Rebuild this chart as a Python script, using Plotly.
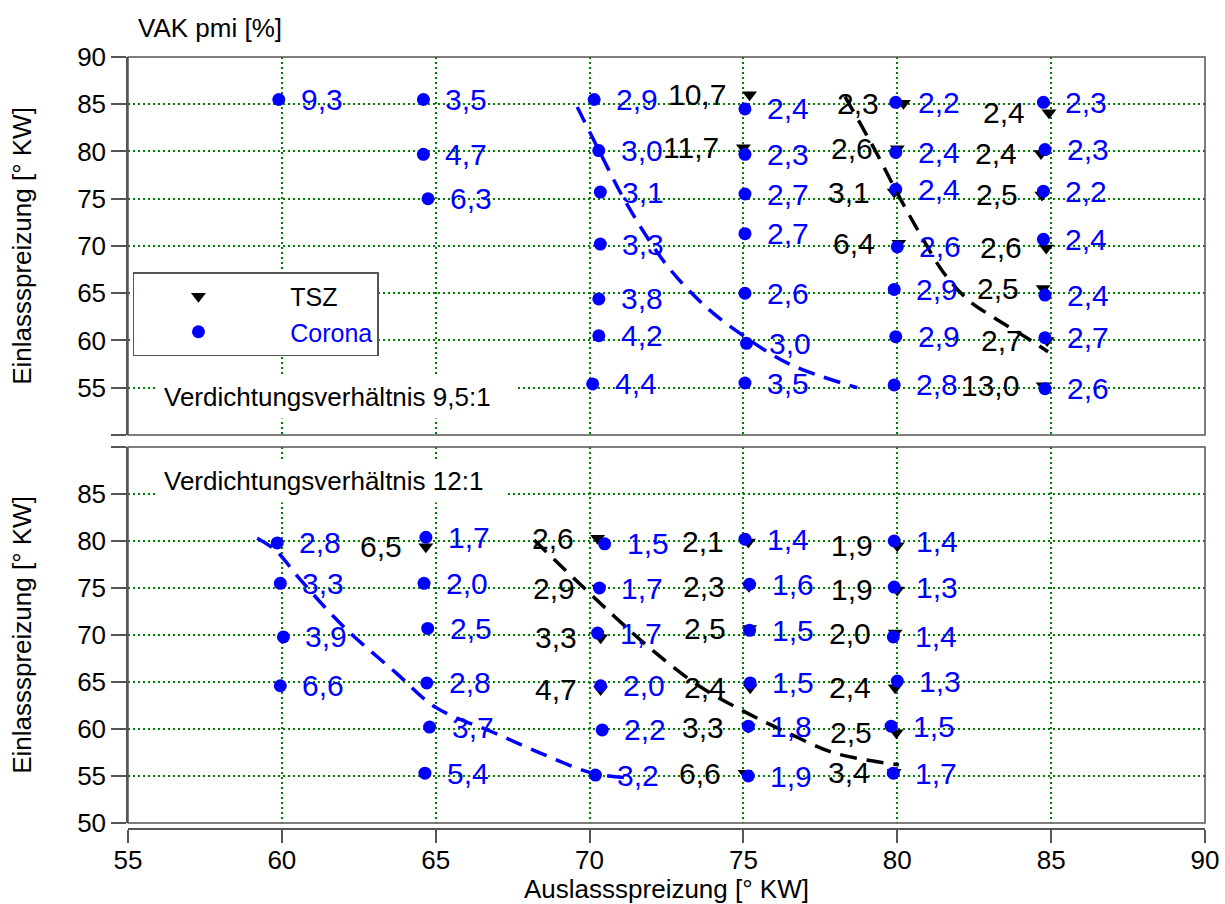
import plotly.graph_objects as go

# ---------------- data: compression ratio 9.5:1 (top panel) ----------------
top_corona_x = [59.9, 64.6, 64.6, 64.75,
                70.15, 70.3, 70.35, 70.35, 70.3, 70.3, 70.1,
                75.05, 75.05, 75.05, 75.05, 75.05, 75.1, 75.05,
                79.95, 79.95, 79.95, 80.0, 79.9, 79.95, 79.9,
                84.75, 84.8, 84.75, 84.75, 84.8, 84.8, 84.8]
top_corona_y = [85.5, 85.5, 79.7, 75.0,
                85.5, 80.1, 75.7, 70.2, 64.4, 60.5, 55.4,
                84.5, 79.7, 75.5, 71.3, 65.0, 59.7, 55.5,
                85.2, 79.9, 76.0, 69.9, 65.4, 60.4, 55.3,
                85.2, 80.2, 75.8, 70.7, 64.8, 60.3, 54.9]
top_corona_lbl = ["9,3", "3,5", "4,7", "6,3",
                  "2,9", "3,0", "3,1", "3,3", "3,8", "4,2", "4,4",
                  "2,4", "2,3", "2,7", "2,7", "2,6", "3,0", "3,5",
                  "2,2", "2,4", "2,4", "2,6", "2,9", "2,9", "2,8",
                  "2,3", "2,3", "2,2", "2,4", "2,4", "2,7", "2,6"]

top_tsz_x = [75.2, 75.0,
             80.2, 80.0, 79.9, 80.05,
             84.93, 84.67, 84.7, 84.84, 84.74, 84.87, 84.74]
top_tsz_y = [86.0, 80.4,
             85.1, 80.3, 75.7, 70.3,
             84.1, 79.8, 75.4, 69.8, 65.5, 60.0, 55.2]
top_tsz_lbl = ["10,7", "11,7",
               "2,3", "2,6", "3,1", "6,4",
               "2,4", "2,4", "2,5", "2,6", "2,5", "2,7", "13,0"]

top_corona_curve_x = [69.6, 70.4, 71.2, 72.5, 73.8, 75.0, 76.5, 78.7]
top_corona_curve_y = [84.7, 79.5, 74.5, 68.0, 63.5, 60.5, 57.5, 55.0]
top_tsz_curve_x = [78.3, 79.3, 80.0, 80.7, 81.5, 82.3, 83.2, 84.1, 84.9]
top_tsz_curve_y = [85.8, 80.0, 75.6, 71.5, 67.2, 64.3, 62.3, 60.5, 58.8]

# ---------------- data: compression ratio 12:1 (bottom panel) ----------------
bot_corona_x = [59.85, 59.95, 60.05, 59.95,
                64.68, 64.62, 64.74, 64.71, 64.8, 64.65,
                70.49, 70.32, 70.26, 70.36, 70.41, 70.19,
                75.05, 75.2, 75.2, 75.22, 75.16, 75.16,
                79.9, 79.9, 79.87, 80.0, 79.8, 79.87]
bot_corona_y = [79.8, 75.5, 69.8, 64.6,
                80.4, 75.5, 70.7, 64.9, 60.2, 55.3,
                79.7, 75.0, 70.2, 64.6, 59.9, 55.1,
                80.2, 75.4, 70.5, 64.9, 60.3, 55.0,
                80.0, 75.1, 69.8, 65.1, 60.3, 55.3]
bot_corona_lbl = ["2,8", "3,3", "3,9", "6,6",
                  "1,7", "2,0", "2,5", "2,8", "3,7", "5,4",
                  "1,5", "1,7", "1,7", "2,0", "2,2", "3,2",
                  "1,4", "1,6", "1,5", "1,5", "1,8", "1,9",
                  "1,4", "1,3", "1,4", "1,3", "1,5", "1,7"]

bot_tsz_x = [64.68,
             70.26, 70.3, 70.36, 70.36,
             75.16, 75.18, 75.2, 75.22, 75.16, 75.05,
             80.0, 80.0, 79.93, 79.93, 79.97, 79.9]
bot_tsz_y = [79.4,
             80.3, 75.0, 69.7, 64.2,
             79.9, 75.2, 70.7, 64.4, 60.2, 55.3,
             79.5, 74.8, 70.2, 64.4, 59.6, 55.4]
bot_tsz_lbl = ["6,5",
               "2,6", "2,9", "3,3", "4,7",
               "2,1", "2,3", "2,5", "2,4", "3,3", "6,6",
               "1,9", "1,9", "2,0", "2,4", "2,5", "3,4"]

bot_corona_curve_x = [59.2, 59.8, 60.6, 62.0, 63.7, 65.0, 66.9, 68.5, 70.1, 71.3]
bot_corona_curve_y = [80.3, 79.0, 75.9, 70.9, 66.0, 62.3, 59.6, 57.3, 55.3, 54.8]
bot_tsz_curve_x = [68.2, 69.5, 70.8, 72.0, 73.5, 75.0, 76.5, 78.0, 80.05]
bot_tsz_curve_y = [80.1, 76.0, 72.0, 68.5, 64.7, 61.9, 59.5, 57.4, 56.2]

x_ticks = [55, 60, 65, 70, 75, 80, 85, 90]
y_ticks = [50, 55, 60, 65, 70, 75, 80, 85, 90]
top_y_ticktext = [""] + [str(v) for v in y_ticks[1:]]
bot_y_ticktext = [str(v) for v in y_ticks[:-1]] + [""]

# ---------------- styling ----------------
FONT = "Liberation Sans, Arial, sans-serif"
BLUE = "#0000FF"
BLACK = "#000000"
GRID = "#008000"
FRAME = "#555555"
TXT = 26
LBL = 30
NB = "\u00a0" * 4

fig = go.Figure()

# TSZ markers
fig.add_trace(go.Scatter(x=top_tsz_x, y=top_tsz_y, mode="markers", name=NB + "TSZ",
                         marker=dict(symbol="triangle-down", size=13, color=BLACK),
                         xaxis="x", yaxis="y", showlegend=True))
fig.add_trace(go.Scatter(x=bot_tsz_x, y=bot_tsz_y, mode="markers", name="TSZ",
                         marker=dict(symbol="triangle-down", size=13, color=BLACK),
                         xaxis="x2", yaxis="y2", showlegend=False))
# Corona markers
fig.add_trace(go.Scatter(x=top_corona_x, y=top_corona_y, mode="markers",
                         name=NB + "<span style='color:#0000FF'>Corona</span>",
                         marker=dict(symbol="circle", size=13, color=BLUE),
                         xaxis="x", yaxis="y", showlegend=True))
fig.add_trace(go.Scatter(x=bot_corona_x, y=bot_corona_y, mode="markers", name="Corona",
                         marker=dict(symbol="circle", size=13, color=BLUE),
                         xaxis="x2", yaxis="y2", showlegend=False))

# dashed curves
dash = "17px,10px"
for cx, cy, col, xa, ya in [
    (top_corona_curve_x, top_corona_curve_y, BLUE, "x", "y"),
    (top_tsz_curve_x, top_tsz_curve_y, BLACK, "x", "y"),
    (bot_corona_curve_x, bot_corona_curve_y, BLUE, "x2", "y2"),
    (bot_tsz_curve_x, bot_tsz_curve_y, BLACK, "x2", "y2"),
]:
    fig.add_trace(go.Scatter(x=cx, y=cy, mode="lines",
                             line=dict(color=col, width=3.5, dash=dash, shape="spline"),
                             xaxis=xa, yaxis=ya, showlegend=False, hoverinfo="skip"))

annotations = []


def add_labels(xs, ys, labels, xref, yref, color, side):
    for x, y, t in zip(xs, ys, labels):
        annotations.append(dict(
            x=x, y=y, xref=xref, yref=yref, text=t, showarrow=False,
            xanchor="left" if side == "right" else "right",
            yanchor="middle",
            xshift=20 if side == "right" else -22,
            font=dict(family=FONT, size=LBL, color=color)))


add_labels(top_corona_x, top_corona_y, top_corona_lbl, "x", "y", BLUE, "right")
add_labels(top_tsz_x, top_tsz_y, top_tsz_lbl, "x", "y", BLACK, "left")
add_labels(bot_corona_x, bot_corona_y, bot_corona_lbl, "x2", "y2", BLUE, "right")
add_labels(bot_tsz_x, bot_tsz_y, bot_tsz_lbl, "x2", "y2", BLACK, "left")

annotations.append(dict(x=0.0075, y=1.0376, xref="paper", yref="paper", text="VAK pmi [%]",
                        showarrow=False, xanchor="left", yanchor="middle",
                        font=dict(family=FONT, size=TXT, color=BLACK)))
annotations.append(dict(x=0.027, y=0.1, xref="x domain", yref="y domain",
                        text="Verdichtungsverhältnis 9,5:1", showarrow=False,
                        xanchor="left", yanchor="middle", bgcolor="white", borderpad=6,
                        width=345, align="left",
                        font=dict(family=FONT, size=TXT, color=BLACK)))
annotations.append(dict(x=0.027, y=0.91, xref="x2 domain", yref="y2 domain",
                        text="Verdichtungsverhältnis 12:1", showarrow=False,
                        xanchor="left", yanchor="middle", bgcolor="white", borderpad=6,
                        width=335, align="left",
                        font=dict(family=FONT, size=TXT, color=BLACK)))

shapes = [
    dict(type="rect", xref="x domain", yref="y domain", x0=0, x1=1, y0=0, y1=1,
         line=dict(color=FRAME, width=1.5), layer="above"),
    dict(type="rect", xref="x2 domain", yref="y2 domain", x0=0, x1=1, y0=0, y1=1,
         line=dict(color=FRAME, width=1.5), layer="above"),
]

common_x = dict(range=[55, 90], tickvals=x_ticks, showgrid=True, gridcolor=GRID, gridwidth=1.5,
                griddash="2px,3px", zeroline=False,
                tickfont=dict(family=FONT, size=TXT, color=BLACK))
common_y = dict(range=[50, 90], tickvals=y_ticks, showgrid=True, gridcolor=GRID, gridwidth=1.5,
                griddash="2px,3px", zeroline=False, showline=True, linecolor=FRAME, linewidth=1.5,
                ticks="outside", ticklen=15, tickcolor=FRAME, tickwidth=1.5,
                tickfont=dict(family=FONT, size=TXT, color=BLACK),
                title=dict(text="Einlassspreizung [° KW]", font=dict(family=FONT, size=TXT, color=BLACK),
                           standoff=38))

fig.update_layout(
    width=1225, height=904,
    margin=dict(l=128, r=20, t=57, b=75, autoexpand=False),
    paper_bgcolor="white", plot_bgcolor="white",
    font=dict(family=FONT, size=TXT, color=BLACK),
    xaxis=dict(domain=[0, 1], anchor="y", showticklabels=False, ticks="", showline=False, **common_x),
    xaxis2=dict(domain=[0, 1], anchor="free", position=0, showticklabels=True, ticks="outside",
                ticklen=13, tickcolor=FRAME, tickwidth=1.5, showline=True, linecolor=FRAME, linewidth=1.5,
                ticklabelstandoff=-5,
                title=dict(text="Auslassspreizung [° KW]", font=dict(family=FONT, size=TXT, color=BLACK),
                           standoff=9),
                **common_x),
    yaxis=dict(domain=[0.5104, 1], anchor="x", ticktext=top_y_ticktext, **common_y),
    yaxis2=dict(domain=[0.00777, 0.4948], anchor="x2", ticktext=bot_y_ticktext, **common_y),
    legend=dict(x=0.0046, y=0.7215, xref="paper", yref="paper", xanchor="left", yanchor="top",
                bgcolor="white", bordercolor=FRAME, borderwidth=1.5,
                font=dict(family=FONT, size=25, color=BLACK), itemwidth=118,
                entrywidth=245, entrywidthmode="pixels", tracegroupgap=0),
    annotations=annotations,
    shapes=shapes,
    showlegend=True,
)

fig.write_html("out.html")
